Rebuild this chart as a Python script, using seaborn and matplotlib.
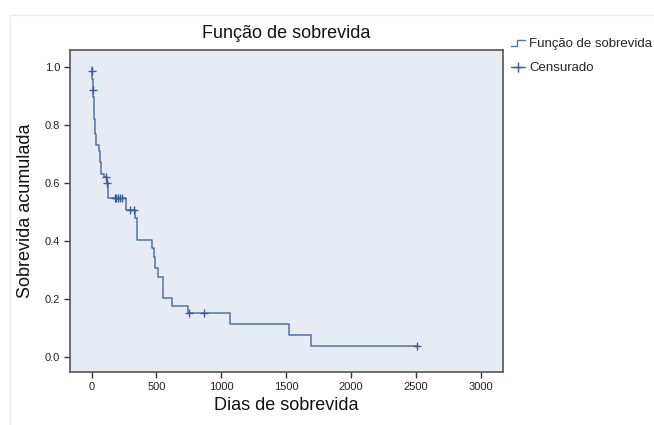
import matplotlib

matplotlib.use("Agg")
import matplotlib.pyplot as plt
import pandas as pd
import seaborn as sns
from matplotlib.legend_handler import HandlerBase
from matplotlib.lines import Line2D
from matplotlib.patches import Rectangle

# Kaplan-Meier steps: event day, survival after it
event_days = [0, 2, 4, 6, 8, 10, 13, 16, 19, 22, 25, 28, 32, 36,
              58, 63, 67, 71, 75, 97, 115, 125, 267, 334, 350,
              468, 480, 490, 510, 548, 618, 741, 1067, 1518, 1690]
survival = [1.0, 0.987, 0.974, 0.961, 0.948, 0.923, 0.897, 0.871, 0.846, 0.820,
            0.795, 0.769, 0.744, 0.731,
            0.712, 0.692, 0.672, 0.653, 0.633, 0.620, 0.600, 0.547, 0.507, 0.478, 0.403,
            0.375, 0.346, 0.306, 0.277, 0.202, 0.176, 0.153, 0.114, 0.075, 0.037]

# censored cases
censor_days = [3, 11, 108, 122, 177, 190, 202, 215, 236, 298, 323, 748, 864, 2510]
censor_surv = [0.987, 0.923, 0.620, 0.600, 0.547, 0.547, 0.547, 0.547, 0.547,
               0.507, 0.507, 0.153, 0.153, 0.037]

x_ticks = [0, 500, 1000, 1500, 2000, 2500, 3000]
y_ticks = [0.0, 0.2, 0.4, 0.6, 0.8, 1.0]

LINE_COLOR = "#4f72aa"
MARK_COLOR = "#3a5c9c"
BG_COLOR = "#e7ebf4"

curve = pd.DataFrame({
    "dias": event_days + [censor_days[-1]],
    "sobrevida": survival + [survival[-1]],
})
censored = pd.DataFrame({"dias": censor_days, "sobrevida": censor_surv})

sns.set_theme(style="white")
plt.rcParams["font.family"] = ["Liberation Sans", "DejaVu Sans"]


class StepHandler(HandlerBase):
    """Little step glyph for the survival-function legend entry."""

    def create_artists(self, legend, orig_handle, xdescent, ydescent,
                       width, height, fontsize, trans):
        xs = [0, 0.45 * width, 0.45 * width, width]
        ys = [0.1 * height, 0.1 * height, 0.7 * height, 0.7 * height]
        line = Line2D(xs, ys, color=orig_handle.get_color(), lw=1.0, transform=trans)
        return [line]


fig = plt.figure(figsize=(6.54, 4.25), dpi=100)
fig.patches.append(Rectangle((0.015, -0.01), 1.0, 0.975, transform=fig.transFigure,
                             facecolor="none", edgecolor="#ececec", lw=1.0))
ax = fig.add_axes([0.107, 0.125, 0.662, 0.757])
ax.set_facecolor(BG_COLOR)

sns.lineplot(data=curve, x="dias", y="sobrevida", ax=ax, drawstyle="steps-post",
             color=LINE_COLOR, lw=1.1, errorbar=None, legend=False)
ax.plot(censored["dias"], censored["sobrevida"], ls="none", marker="+",
        ms=5.5, mew=1.0, color=MARK_COLOR)

ax.set_xlim(-167, 3171)
ax.set_ylim(-0.052, 1.059)
ax.set_xticks(x_ticks)
ax.set_yticks(y_ticks)
ax.set_xticklabels([str(t) for t in x_ticks], fontsize=8)
ax.set_yticklabels([f"{t:.1f}" for t in y_ticks], fontsize=8)
ax.tick_params(axis="both", direction="out", length=4, width=1, color="#333333",
               bottom=True, left=True, pad=3, labelcolor="#222222")

for side in ax.spines.values():
    side.set_color("#555555")
    side.set_linewidth(1.2)

ax.set_xlabel("Dias de sobrevida", fontsize=13, color="#111111", labelpad=4)
ax.set_ylabel("Sobrevida acumulada", fontsize=13, color="#111111", labelpad=8)
ax.set_title("Função de sobrevida", fontsize=13, color="#111111", pad=9)

h_curve = Line2D([], [], color=LINE_COLOR, lw=1.0)
h_cens = Line2D([], [], color=LINE_COLOR, lw=1.0, marker="+", ms=7, mew=1.0,
                markeredgecolor=MARK_COLOR)
fig.legend([h_curve, h_cens], ["Função de sobrevida", "Censurado"],
           handler_map={h_curve: StepHandler()},
           loc="upper left", bbox_to_anchor=(0.765, 0.937), frameon=False,
           fontsize=9.5, handlelength=1.1, handletextpad=0.3, labelspacing=0.95,
           borderpad=0.3)

fig.savefig("out.png", dpi=100, facecolor="white")
